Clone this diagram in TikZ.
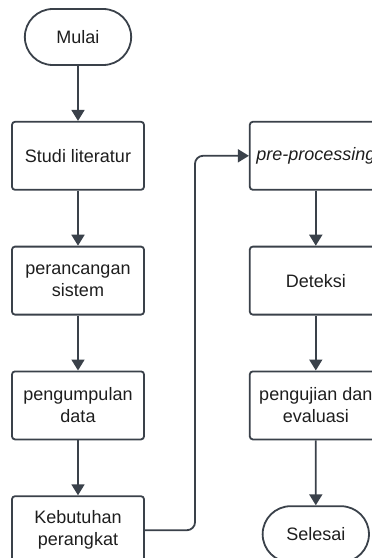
\documentclass[tikz,border=0pt]{standalone}
\usepackage{fontspec}
\setmainfont{Liberation Sans}
\usetikzlibrary{arrows.meta,positioning,shapes.misc}
\definecolor{garis}{HTML}{3A414A}
\definecolor{teks}{HTML}{1E1E1E}

\begin{document}
\begin{tikzpicture}[x=1pt, y=1pt, node distance=55pt,
    every node/.style={font=\fontsize{18}{22}\selectfont, text=teks},
    proses/.style={draw=garis, line width=1.8pt, rounded corners=3pt, align=center,
        minimum width=132pt, minimum height=68pt},
    terminal/.style={draw=garis, line width=1.8pt, rounded rectangle,
        minimum width=113pt, minimum height=56pt},
    panah/.style={draw=garis, line width=1.8pt, -{Triangle[width=13pt, length=11pt]}}]
        \useasboundingbox (0,0) rectangle (372,-558);
        \node[terminal] (mulai) at (78,-37) {Mulai};
        \node[proses, below=of mulai] (studi) {Studi literatur};
        \node[proses, below=of studi] (rancang) {perancangan\\sistem};
        \node[proses, below=of rancang] (kumpul) {pengumpulan\\data};
        \node[proses, below=of kumpul] (butuh) {Kebutuhan\\perangkat};
        \node[proses, right=104pt of studi] (pre) {\itshape pre-processing};
        \node[proses, below=of pre] (deteksi) {Deteksi};
        \node[proses, below=of deteksi] (uji) {pengujian dan\\evaluasi};
        \node[terminal, below=65pt of uji] (selesai) {Selesai};
        \coordinate (belok) at (195,-300);
        \draw[panah] (mulai) -- (studi);
        \draw[panah] (studi) -- (rancang);
        \draw[panah] (rancang) -- (kumpul);
        \draw[panah] (kumpul) -- (butuh);
        \draw[panah, rounded corners=8pt] (butuh.east) -| (belok) |- (pre.west);
        \draw[panah] (pre) -- (deteksi);
        \draw[panah] (deteksi) -- (uji);
        \draw[panah] (uji) -- (selesai);
    \end{tikzpicture}
\end{document}
